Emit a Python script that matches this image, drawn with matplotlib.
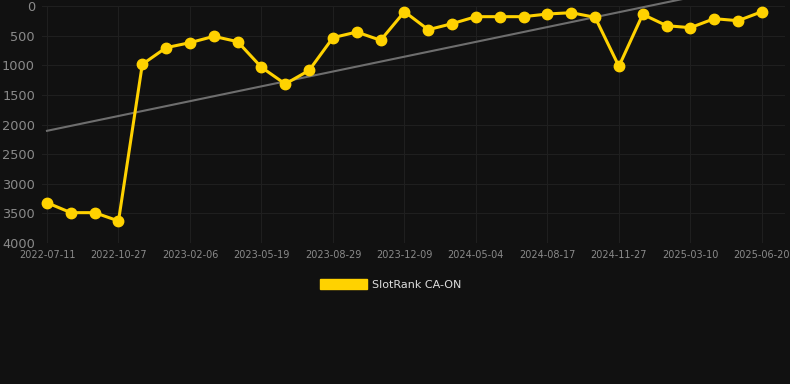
import numpy as np
import matplotlib
matplotlib.use("Agg")
import matplotlib.pyplot as plt
from matplotlib.patches import Patch

# rank per period (lower = better)
ranks = [3320, 3488, 3488, 3628, 984, 703, 619, 512, 602, 1035,
         1316, 1086, 534, 439, 579, 96, 400, 298, 180, 180,
         180, 135, 113, 191, 1018, 141, 332, 366, 214, 248, 96]

tickLabels = ['2022-07-11', '2022-10-27', '2023-02-06', '2023-05-19',
              '2023-08-29', '2023-12-09', '2024-05-04', '2024-08-17',
              '2024-11-27', '2025-03-10', '2025-06-20']

yTicks = [0, 500, 1000, 1500, 2000, 2500, 3000, 3500, 4000]

bg = '#111111'
gold = '#FFD200'

x = np.arange(len(ranks))
slope, intercept = np.polyfit(x, ranks, 1)

fig = plt.figure(figsize=(7.9, 3.84), dpi=100, facecolor=bg)
ax = fig.add_axes([42 / 790, 141 / 384, 743 / 790, 237 / 384])
ax.set_facecolor(bg)

# trend line is not clipped to the plot area in the original
ax.plot(x, slope * x + intercept, color='#6e6e6e', linewidth=1.5, zorder=2,
        clip_on=False)
ax.plot(x, ranks, color=gold, linewidth=2.2, marker='o', markersize=7.5,
        zorder=3, clip_on=False)

ax.set_ylim(4000, 0)
ax.set_xlim(-0.21, 30.97)
ax.set_yticks(yTicks)
ax.set_yticklabels([str(v) for v in yTicks])
ax.set_xticks(x[::3])
ax.set_xticklabels(tickLabels)

ax.grid(True, color='#1f1f1f', linewidth=0.8)
ax.set_axisbelow(True)
for s in ax.spines.values():
    s.set_visible(False)
ax.tick_params(axis='y', colors='#8a8a8a', labelsize=9.3, length=0, pad=5)
ax.tick_params(axis='x', colors='#8a8a8a', labelsize=7, length=0, pad=5)

fig.legend(handles=[Patch(facecolor=gold, edgecolor=gold)],
           labels=['SlotRank CA-ON'], loc='center', bbox_to_anchor=(0.495, 0.26),
           frameon=False, fontsize=8, labelcolor='#dddddd',
           handlelength=4.2, handleheight=1.0, handletextpad=0.5)

fig.savefig('out.png', dpi=100, facecolor=bg)
